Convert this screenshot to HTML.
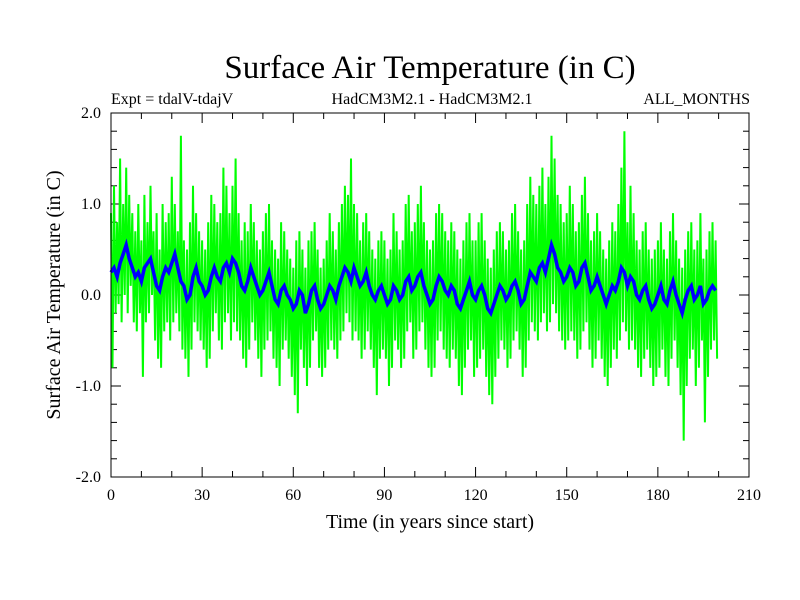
<!DOCTYPE html>
<html><head><meta charset="utf-8"><style>
body{margin:0;background:#fff;}
svg{display:block;font-family:"Liberation Serif",serif;}
</style></head><body>
<svg id="chart" width="800" height="600">
<text x="430" y="78" font-size="33" text-anchor="middle">Surface Air Temperature (in C)</text>
<text x="111" y="104" font-size="16">Expt = tdalV-tdajV</text>
<text x="432" y="104" font-size="16" text-anchor="middle">HadCM3M2.1 - HadCM3M2.1</text>
<text x="750" y="104" font-size="16" text-anchor="end">ALL_MONTHS</text>
<text x="430" y="528" font-size="20" text-anchor="middle">Time (in years since start)</text>
<text transform="translate(60,295) rotate(-90)" font-size="20" text-anchor="middle">Surface Air Temperature (in C)</text>
<g id="ticks"></g>
<g id="series"></g>
<rect x="111" y="113" width="638" height="364" fill="none" stroke="#000" stroke-width="1"/>
</svg>
<script>
const xTicks=[0,30,60,90,120,150,180,210];
const yTicks=[-2.0,-1.0,0.0,1.0,2.0];
const yTickLabels=["-2.0","-1.0","0.0","1.0","2.0"];
const blueValues=[0.25,0.3,0.2,0.35,0.45,0.55,0.4,0.3,0.2,0.25,
0.15,0.3,0.35,0.4,0.25,0.1,0.05,0.2,0.3,0.25,
0.35,0.45,0.3,0.15,0.1,-0.05,0.0,0.2,0.3,0.15,
0.1,0.0,0.05,0.2,0.3,0.2,0.15,0.3,0.35,0.25,
0.4,0.35,0.25,0.1,0.05,0.15,0.3,0.2,0.1,0.0,
0.05,0.15,0.25,0.1,-0.05,-0.1,0.05,0.1,0.0,-0.05,
-0.15,-0.1,0.05,0.0,-0.2,-0.1,0.05,0.1,-0.05,-0.15,
-0.1,0.0,0.1,0.05,-0.05,0.1,0.2,0.3,0.25,0.15,
0.3,0.2,0.1,0.15,0.25,0.1,0.0,-0.05,0.05,0.1,
0.0,-0.1,-0.05,0.1,0.05,-0.05,0.0,0.15,0.2,0.05,
0.1,0.2,0.25,0.1,0.0,-0.1,-0.05,0.1,0.2,0.15,
0.05,0.0,0.1,0.05,-0.1,-0.15,-0.05,0.05,0.15,0.0,
-0.05,0.05,0.1,0.0,-0.15,-0.2,-0.1,0.0,0.1,0.05,
-0.05,0.0,0.1,0.15,0.05,-0.1,-0.05,0.1,0.25,0.2,
0.15,0.3,0.35,0.25,0.4,0.55,0.45,0.3,0.25,0.15,
0.2,0.3,0.25,0.1,0.15,0.3,0.35,0.2,0.05,0.1,
0.2,0.1,0.0,-0.1,0.0,0.1,0.05,0.15,0.3,0.25,
0.1,0.2,0.15,0.0,-0.05,0.05,0.1,-0.05,-0.15,-0.1,
0.0,0.1,-0.05,-0.1,0.05,0.15,0.0,-0.1,-0.2,-0.05,
0.05,0.1,-0.05,0.0,0.1,-0.1,-0.05,0.05,0.1,0.05];
const greenValues=[0.9,-0.8,1.2,-0.2,0.8,-0.1,1.5,-0.3,1.0,0.0,1.4,-0.2,1.1,0.1,0.9,-0.3,0.7,-0.4,1.0,-0.2,
0.6,-0.9,1.1,-0.3,0.8,-0.2,1.2,0.0,0.7,-0.5,0.9,-0.7,0.5,-0.8,1.0,-0.4,0.8,-0.3,0.9,-0.5,
1.3,-0.3,1.0,-0.2,0.7,-0.4,1.75,-0.6,0.6,-0.7,0.5,-0.9,0.8,-0.6,1.2,-0.3,0.9,-0.4,0.7,-0.5,
0.6,-0.6,0.5,-0.8,0.8,-0.7,1.1,-0.4,1.0,-0.2,0.8,-0.5,0.9,-0.6,1.4,-0.3,1.2,-0.2,0.9,-0.5,
1.2,-0.3,1.5,-0.4,0.9,-0.5,0.6,-0.7,0.8,-0.8,0.7,-0.6,1.0,-0.3,0.8,-0.5,0.6,-0.7,0.5,-0.9,
0.7,-0.6,0.9,-0.5,1.0,-0.4,0.6,-0.7,0.5,-0.8,0.4,-1.0,0.8,-0.6,0.7,-0.5,0.5,-0.7,0.4,-0.9,
0.3,-1.1,0.6,-1.3,0.7,-0.6,0.5,-0.8,0.3,-1.0,0.6,-0.8,0.7,-0.5,0.8,-0.4,0.5,-0.8,0.3,-0.9,
0.4,-0.8,0.6,-0.6,0.9,-0.5,0.7,-0.6,0.5,-0.7,0.8,-0.5,1.0,-0.4,1.2,-0.2,1.1,-0.3,1.5,-0.5,
1.0,-0.4,0.9,-0.5,0.6,-0.7,0.8,-0.6,0.9,-0.4,0.7,-0.6,0.5,-0.8,0.4,-1.1,0.6,-0.7,0.7,-0.6,
0.6,-0.7,0.4,-1.0,0.5,-0.8,0.9,-0.5,0.7,-0.6,0.5,-0.8,0.6,-0.7,1.0,-0.4,1.1,-0.3,0.7,-0.7,
0.8,-0.6,1.0,-0.4,1.2,-0.3,0.8,-0.6,0.6,-0.8,0.5,-0.9,0.6,-0.8,0.9,-0.5,1.0,-0.4,0.9,-0.6,
0.7,-0.7,0.6,-0.8,0.8,-0.6,0.7,-0.7,0.5,-1.0,0.4,-1.1,0.6,-0.8,0.8,-0.6,0.9,-0.5,0.6,-0.9,
0.6,-0.8,0.8,-0.7,0.9,-0.6,0.6,-0.9,0.4,-1.1,0.3,-1.2,0.5,-0.9,0.7,-0.7,0.8,-0.5,0.7,-0.6,
0.5,-0.8,0.6,-0.7,0.9,-0.5,1.0,-0.4,0.7,-0.6,0.5,-0.9,0.6,-0.8,1.0,-0.5,1.3,-0.3,1.1,-0.4,
1.0,-0.5,1.2,-0.3,1.4,-0.2,1.0,-0.4,1.3,-0.3,1.75,-0.1,1.5,-0.2,1.1,-0.4,1.0,-0.5,0.8,-0.6,
0.9,-0.5,1.2,-0.4,1.0,-0.5,0.7,-0.7,0.8,-0.6,1.1,-0.4,1.3,-0.3,0.9,-0.6,0.6,-0.8,0.7,-0.7,
0.9,-0.5,0.7,-0.7,0.5,-0.9,0.4,-1.0,0.6,-0.8,0.8,-0.6,0.7,-0.7,1.0,-0.5,1.4,-0.3,1.8,-0.4,
0.8,-0.6,1.2,-0.5,0.9,-0.6,0.6,-0.8,0.5,-0.9,0.7,-0.7,0.8,-0.6,0.5,-0.8,0.4,-1.0,0.5,-0.9,
0.6,-0.8,0.8,-0.6,0.5,-0.9,0.4,-1.0,0.7,-0.7,0.9,-0.5,0.6,-0.8,0.4,-1.1,0.3,-1.6,0.5,-1.0,
0.7,-0.7,0.8,-0.6,0.5,-1.0,0.6,-0.8,0.9,-0.5,0.4,-1.4,0.5,-0.9,0.7,-0.6,0.8,-0.5,0.6,-0.7];
const NS="http://www.w3.org/2000/svg";
const X0=111,X1=749,Y0=477,Y1=113;
function xs(v){return X0+(v-0)/210*(X1-X0);}
function ys(v){return Y0-(v+2)/4*(Y0-Y1);}
const tg=document.getElementById('ticks');
function mk(tag,attrs,parent){const e=document.createElementNS(NS,tag);for(const k in attrs)e.setAttribute(k,attrs[k]);parent.appendChild(e);return e;}
for(let v=0;v<=210;v+=10){const x=xs(v);const L=(v%30===0)?10:6;
 const a=mk('line',{x1:x,x2:x,y1:Y0,y2:Y0-L,stroke:'#000'},tg);
 
 
 const b=mk('line',{x1:x,x2:x,y1:Y1,y2:Y1+L,stroke:'#000'},tg);
 
 }
for(let i=-10;i<=10;i++){const v=i*0.2;const y=ys(v);const L=(i%5===0)?10:6;
 const a=mk('line',{x1:X0,x2:X0+L,y1:y,y2:y,stroke:'#000'},tg);
 
 
 const b=mk('line',{x1:X1,x2:X1-L,y1:y,y2:y,stroke:'#000'},tg);
 
 }
xTicks.forEach(v=>{const t=mk('text',{x:xs(v),y:500,'font-size':16,'text-anchor':'middle'},tg);t.textContent=String(v);
 
 });
yTicks.forEach((v,i)=>{const t=mk('text',{x:101,y:ys(v)+5,'font-size':16,'text-anchor':'end'},tg);t.textContent=yTickLabels[i];
 
 });
const sg=document.getElementById('series');
const gp=greenValues.map((v,i)=>xs(i*0.5).toFixed(1)+','+ys(v).toFixed(1)).join(' ');
const g=mk('polyline',{points:gp,fill:'none',stroke:'#00ff00','stroke-width':2},sg);


const bp=blueValues.map((v,i)=>xs(i).toFixed(1)+','+ys(v).toFixed(1)).join(' ');
const bl=mk('polyline',{points:bp,fill:'none',stroke:'#0000ff','stroke-width':3.5},sg);


</script>
</body></html>
